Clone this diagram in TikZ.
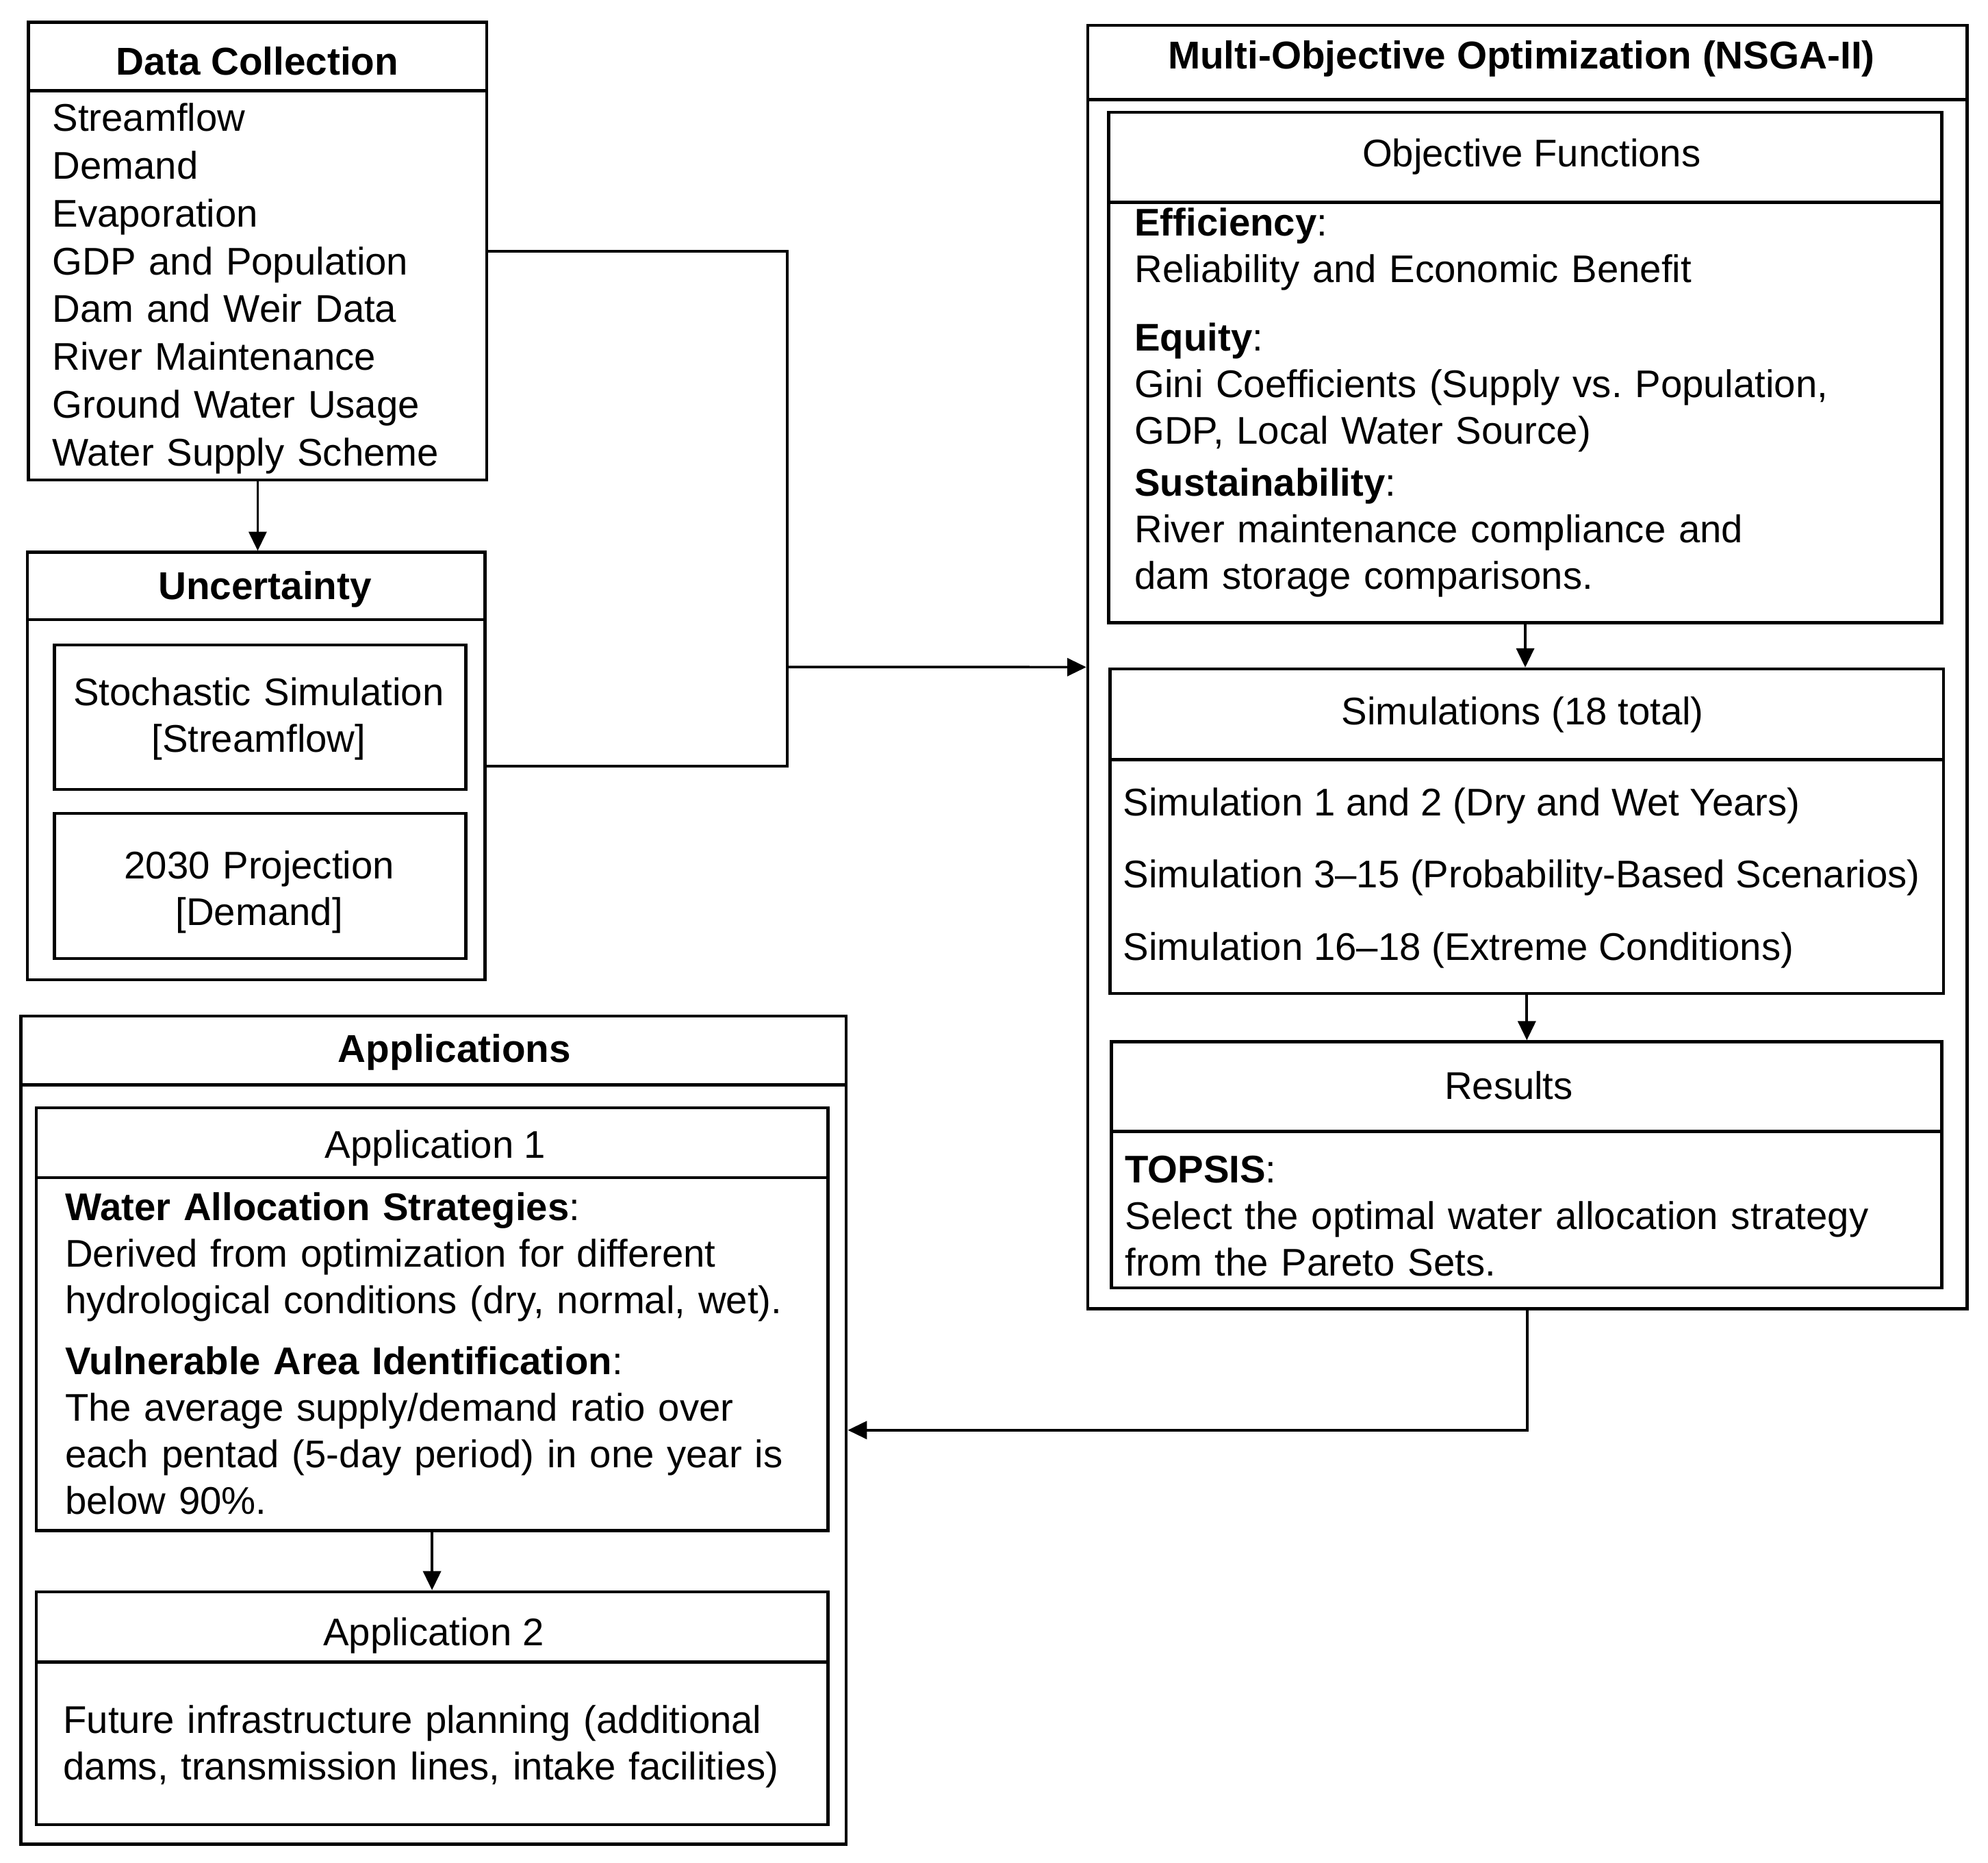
\documentclass[tikz,border=0pt]{standalone}
\usepackage{fontspec}
\setmainfont{Liberation Sans}
\usetikzlibrary{arrows.meta,fit}
\newcommand\mybox[5]{\path (#2,#3) coordinate (#1-nw) (#4,#5) coordinate (#1-se);
  \node[boxst, fit=(#1-nw)(#1-se)] (#1) {};}
\tikzset{
 boxst/.style={draw, line width=1.2pt, inner sep=0pt},
 sepl/.style={line width=1.2pt},
 conn/.style={line width=1pt},
 arr/.style={conn, -{Triangle[length=7.5pt,width=7pt]}},
 ttl/.style={inner sep=0pt, anchor=base, font=\fontsize{15.3}{18.4}\selectfont\bfseries},
 lbl/.style={inner sep=0pt, anchor=base, font=\fontsize{15.2}{18.4}\selectfont},
 blk/.style={inner sep=0pt, anchor=base west, align=left, text width=340pt, font=\fontsize{15.2}{18.4}\selectfont},
 cblk/.style={inner sep=0pt, anchor=base, align=center, text width=170pt, font=\fontsize{15.2}{18.4}\selectfont},
}
\begin{document}
\frenchspacing
\begin{tikzpicture}[x=0.5pt,y=-0.5pt]
\useasboundingbox (0,0) rectangle (1568,1468.7);
% ---------- Data Collection
\mybox{dc}{22.5}{17.5}{384}{378.5}
\draw[sepl] (22.5,71.5) -- (384,71.5);
\node[ttl] (dct) at (203,59) {Data Collection};
\node[blk, font=\fontsize{15.2}{18.85}\selectfont] (dcl) at (41,103.5) {Streamflow\\Demand\\Evaporation\\GDP and Population\\Dam and Weir Data\\River Maintenance\\Ground Water Usage\\Water Supply Scheme};
% ---------- Uncertainty
\mybox{unc}{21.5}{435.5}{382.5}{772.5}
\draw[sepl] (21.5,488.5) -- (382.5,488.5);
\node[ttl] (unct) at (209,472.5) {Uncertainty};
\mybox{sto}{43}{508.5}{367.5}{622.5}
\node[cblk] (stot) at (204,556.5) {Stochastic Simulation\\{[Streamflow]}};
\mybox{prj}{43}{641.5}{367.5}{756}
\node[cblk] (prjt) at (204.5,693) {2030 Projection\\{[Demand]}};
% ---------- MOO
\mybox{moo}{858}{20}{1551.5}{1032.2}
\draw[sepl] (858,78.5) -- (1551.5,78.5);
\node[ttl] (moot) at (1200,54) {Multi-Objective Optimization (NSGA-II)};
\mybox{obj}{874.5}{88.5}{1531.5}{491}
\draw[sepl] (874.5,159.5) -- (1531.5,159.5);
\node[lbl] (objt) at (1208,131.5) {Objective Functions};
\node[blk] (eff) at (894.5,186) {\textbf{Efficiency}:\\Reliability and Economic Benefit};
\node[blk] (equ) at (894.5,276.5) {\textbf{Equity}:\\Gini Coefficients (Supply vs. Population,\\GDP, Local Water Source)};
\node[blk] (sus) at (894.5,391) {\textbf{Sustainability}:\\River maintenance compliance and\\dam storage comparisons.};
\mybox{sim}{875.5}{527.5}{1533}{783.5}
\draw[sepl] (875.5,599) -- (1533,599);
\node[lbl] (simt) at (1201,571.5) {Simulations (18 total)};
\node[lbl, anchor=base west] (s1) at (885.5,643.5) {Simulation 1 and 2 (Dry and Wet Years)};
\node[lbl, anchor=base west] (s2) at (885.5,700) {Simulation 3–15 (Probability-Based Scenarios)};
\node[lbl, anchor=base west] (s3) at (885.5,757.5) {Simulation 16–18 (Extreme Conditions)};
\mybox{res}{876.5}{821.5}{1531.5}{1015.6}
\draw[sepl] (876.5,892.3) -- (1531.5,892.3);
\node[lbl] (rest) at (1190,867) {Results};
\node[blk] (top) at (887,932.5) {\textbf{TOPSIS}:\\Select the optimal water allocation strategy\\from the Pareto Sets.};
% ---------- Applications
\mybox{app}{16.5}{801.4}{667.5}{1454.2}
\draw[sepl] (16.5,855.6) -- (667.5,855.6);
\node[ttl] (appt) at (358.5,837.7) {Applications};
\mybox{ap1}{28.5}{873.5}{653}{1207.1}
\draw[sepl] (28.5,928.6) -- (653,928.6);
\node[lbl] (ap1t) at (343.5,913.3) {Application 1};
\node[blk] (was) at (51,962.3) {\textbf{Water Allocation Strategies}:\\Derived from optimization for different\\hydrological conditions (dry, normal, wet).};
\node[blk] (vai) at (51,1083.8) {\textbf{Vulnerable Area Identification}:\\The average supply/demand ratio over\\each pentad (5-day period) in one year is\\below 90\%.};
\mybox{ap2}{28.5}{1255.2}{653}{1438.9}
\draw[sepl] (28.5,1310.8) -- (653,1310.8);
\node[lbl] (ap2t) at (342,1298) {Application 2};
\node[blk] (fut) at (49.5,1366.7) {Future infrastructure planning (additional\\dams, transmission lines, intake facilities)};
% ---------- connectors
\draw[arr] (dc.south) -- (dc.south |- unc.north);
\coordinate (jx) at (621,526);
\draw[conn] (dc.east) -| (jx) |- (unc.east);
\draw[arr] (jx) -- (moo.west);
\draw[arr] (obj.south) -- (obj.south |- sim.north);
\draw[arr] (sim.south) -- (sim.south |- res.north);
\draw[arr] (moo.south) |- (app.east);
\draw[arr] (ap1.south) -- (ap1.south |- ap2.north);
\end{tikzpicture}
\end{document}
